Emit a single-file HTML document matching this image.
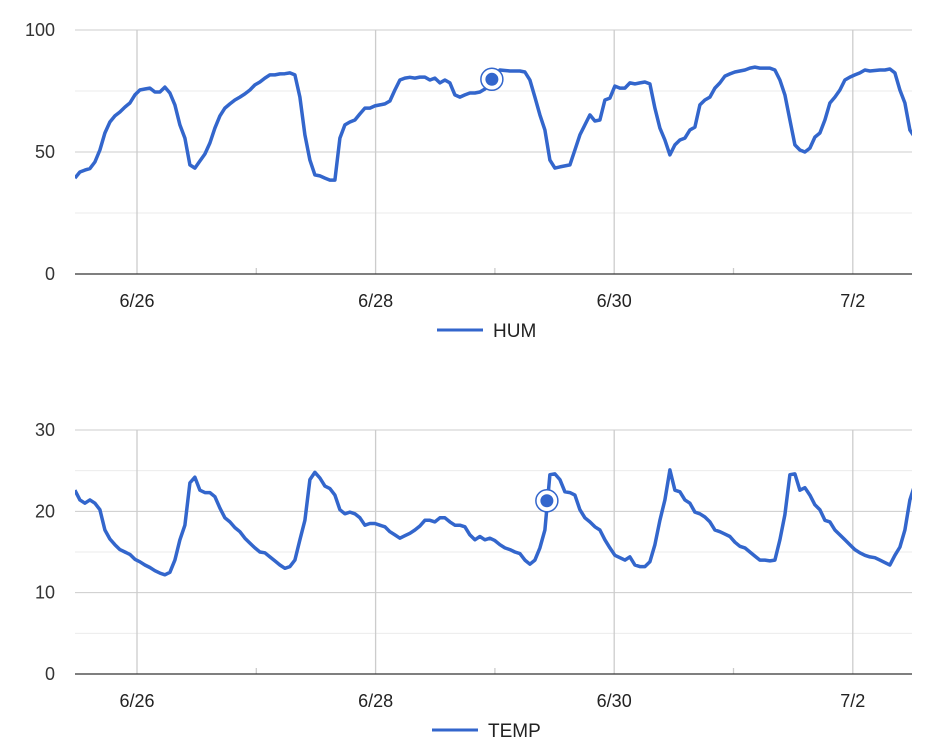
<!DOCTYPE html>
<html><head><meta charset="utf-8">
<style>
html,body{margin:0;padding:0;background:#fff;}
svg{display:block;font-family:"Liberation Sans",Arial,sans-serif;}
</style></head>
<body>
<svg id="chart" width="932" height="754"></svg>
<script>
const dateLabels = ["6/26","6/28","6/30","7/2"];
const majorDays = [0,2,4,6];
const minorDays = [1,3,5];
const humTicks = [0,50,100];
const humMinorTicks = [25,75];
const tempTicks = [0,10,20,30];
const tempMinorTicks = [5,15,25];
const startHour = -12.5;
const stepHours = 1.0059;
const humValues = [39.3,41.8,42.6,43.2,45.9,50.8,57.8,62.3,64.8,66.4,68.4,70.1,73.4,75.4,75.8,76.2,74.6,74.6,76.6,74.2,69.3,61.1,55.7,44.7,43.4,46.3,49.2,53.7,59.8,64.8,68.0,69.7,71.3,72.5,73.8,75.4,77.5,78.7,80.3,81.6,81.6,82.0,82.1,82.4,81.6,72.5,57.0,46.7,40.6,40.2,39.3,38.5,38.5,55.7,61.1,62.3,63.1,65.6,68.0,68.0,68.9,69.3,69.7,70.9,75.4,79.5,80.3,80.6,80.3,80.7,80.7,79.5,80.3,78.3,79.5,78.3,73.4,72.5,73.4,74.2,74.2,74.6,75.8,79.5,81.1,83.6,83.4,83.2,83.2,83.2,82.8,79.5,72.5,65.2,59.0,46.7,43.4,43.9,44.3,44.7,50.8,57.0,61.1,65.2,62.7,63.1,71.3,72.1,77.0,76.2,76.2,78.3,77.9,78.3,78.7,77.9,68.0,59.8,54.9,48.8,52.9,54.9,55.7,59.0,60.2,69.3,71.3,72.5,76.2,78.3,81.1,82.0,82.8,83.2,83.6,84.4,84.8,84.4,84.4,84.4,83.6,79.5,73.4,63.1,52.9,50.8,50.0,51.6,56.1,57.8,63.1,70.1,72.5,75.4,79.5,80.7,81.6,82.4,83.6,83.2,83.4,83.6,83.6,84.0,82.4,75.4,70.1,59.0,56.0];
const tempValues = [22.6,21.4,21.0,21.4,21.0,20.2,17.7,16.6,15.9,15.3,15.0,14.7,14.1,13.8,13.4,13.1,12.7,12.4,12.2,12.5,14.0,16.5,18.3,23.5,24.2,22.6,22.3,22.3,21.8,20.4,19.2,18.7,18.0,17.5,16.7,16.1,15.5,15.0,14.9,14.4,13.9,13.4,13.0,13.2,14.0,16.5,18.9,23.9,24.8,24.1,23.1,22.8,22.0,20.2,19.7,19.9,19.7,19.2,18.3,18.5,18.5,18.3,18.1,17.5,17.1,16.7,17.0,17.3,17.7,18.2,18.9,18.9,18.7,19.2,19.2,18.7,18.3,18.3,18.1,17.1,16.5,16.9,16.5,16.7,16.4,15.9,15.5,15.3,15.0,14.8,14.0,13.5,14.0,15.5,17.7,24.5,24.6,23.9,22.4,22.3,22.0,20.2,19.2,18.7,18.1,17.7,16.5,15.5,14.6,14.3,14.0,14.4,13.4,13.2,13.2,13.8,15.9,18.9,21.4,25.1,22.6,22.4,21.4,21.0,19.9,19.7,19.3,18.7,17.7,17.5,17.2,16.9,16.2,15.7,15.5,15.0,14.5,14.0,14.0,13.9,14.0,16.5,19.6,24.5,24.6,22.6,22.9,22.0,20.8,20.2,18.9,18.7,17.7,17.1,16.5,15.9,15.3,14.9,14.6,14.4,14.3,14.0,13.7,13.4,14.6,15.6,17.7,21.4,23.3];
const humFocus = [83.4, 79.8];
const tempFocus = [94.4, 21.3];

const NS = "http://www.w3.org/2000/svg";
const svg = document.getElementById("chart");
function mk(tag, attrs, parent){const e=document.createElementNS(NS,tag);for(const k in attrs)e.setAttribute(k,attrs[k]);(parent||svg).appendChild(e);return e;}

const X0 = 75, X1 = 912, day0 = 137, dayPx = 119.3;
function xDay(d){return day0 + d*dayPx;}
function xIdx(i){return xDay((startHour + i*stepHours)/24);}

function drawChart(cfg){
  const g = mk("g",{});
  
  
  const y = v => cfg.yTop + (cfg.max - v)/cfg.max*(cfg.yBot-cfg.yTop);
  const clipId = cfg.name+"-clip";
  const cp = mk("clipPath",{id:clipId},g);
  mk("rect",{x:X0,y:cfg.yTop-20,width:X1-X0,height:cfg.yBot-cfg.yTop+20},cp);
  cfg.minor.forEach(v=>{
    const l=mk("line",{x1:X0,x2:X1,y1:y(v),y2:y(v),stroke:"#ebebeb","stroke-width":1},g);
    
    
  });
  cfg.ticks.forEach(v=>{
    if(v!==0){
      const l=mk("line",{x1:X0,x2:X1,y1:y(v),y2:y(v),stroke:"#cccccc","stroke-width":1},g);
      
      
    }
    const t=mk("text",{x:55,y:y(v)+6,"text-anchor":"end","font-size":18,fill:"#333"},g);
    t.textContent=v;
    
    
  });
  majorDays.forEach((d,i)=>{
    const l=mk("line",{x1:xDay(d),x2:xDay(d),y1:cfg.yTop,y2:cfg.yBot,stroke:"#cccccc","stroke-width":1.3},g);
    
    
    const t=mk("text",{x:xDay(d),y:cfg.yBot+33,"text-anchor":"middle","font-size":18,fill:"#222"},g);
    t.textContent=dateLabels[i];
    
    
  });
  minorDays.forEach(d=>{
    const l=mk("line",{x1:xDay(d),x2:xDay(d),y1:cfg.yBot-6,y2:cfg.yBot,stroke:"#cccccc","stroke-width":1.3},g);
    
    
  });
  const ax=mk("line",{x1:X0,x2:X1,y1:cfg.yBot,y2:cfg.yBot,stroke:"#333","stroke-width":1.3},g);
  
  
  const pts = cfg.values.map((v,i)=>xIdx(i).toFixed(1)+","+y(v).toFixed(1)).join(" ");
  const pl=mk("polyline",{points:pts,fill:"none",stroke:"#3366cc","stroke-width":3.5,"stroke-linejoin":"round","clip-path":"url(#"+clipId+")"},g);
  
  
  const fx=xIdx(cfg.focus[0]), fy=y(cfg.focus[1]);
  const ring=mk("circle",{cx:fx,cy:fy,r:11,fill:"#fff",stroke:"#3366cc","stroke-width":1.5},g);
  
  
  const dot=mk("circle",{cx:fx,cy:fy,r:6.5,fill:"#3366cc"},g);
  
  
  const lg=mk("g",{},g);
  
  
  mk("line",{x1:cfg.legX,x2:cfg.legX+46,y1:cfg.legY,y2:cfg.legY,stroke:"#3366cc","stroke-width":3},lg);
  const lt=mk("text",{x:cfg.legX+56,y:cfg.legY+7,"font-size":19,fill:"#222"},lg);
  lt.textContent=cfg.label;
}
drawChart({name:"hum",label:"HUM",values:humValues,ticks:humTicks,minor:humMinorTicks,max:100,yTop:30,yBot:274,focus:humFocus,legX:437,legY:330});
drawChart({name:"temp",label:"TEMP",values:tempValues,ticks:tempTicks,minor:tempMinorTicks,max:30,yTop:430,yBot:674,focus:tempFocus,legX:432,legY:730});
</script>
</body></html>
